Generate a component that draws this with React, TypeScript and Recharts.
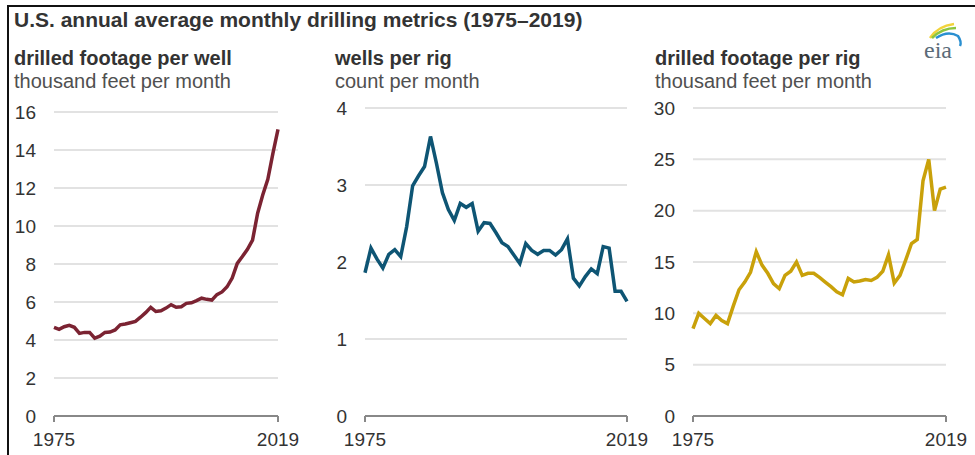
import { CartesianGrid, Line, LineChart, XAxis, YAxis } from 'recharts';

const years = [
  1975, 1976, 1977, 1978, 1979, 1980, 1981, 1982, 1983, 1984,
  1985, 1986, 1987, 1988, 1989, 1990, 1991, 1992, 1993, 1994,
  1995, 1996, 1997, 1998, 1999, 2000, 2001, 2002, 2003, 2004,
  2005, 2006, 2007, 2008, 2009, 2010, 2011, 2012, 2013, 2014,
  2015, 2016, 2017, 2018, 2019,
];

// thousand feet per month
const footagePerWell = [
  4.67, 4.56, 4.7, 4.77, 4.67, 4.35, 4.4, 4.4, 4.1, 4.2,
  4.4, 4.42, 4.53, 4.8, 4.84, 4.91, 4.98, 5.2, 5.44, 5.72,
  5.5, 5.54, 5.68, 5.86, 5.72, 5.75, 5.93, 5.96, 6.07, 6.2,
  6.14, 6.1, 6.39, 6.53, 6.8, 7.26, 8.03, 8.39, 8.77, 9.26,
  10.67, 11.63, 12.46, 13.82, 15.09,
];

// count per month
const wellsPerRig = [
  1.86, 2.18, 2.04, 1.92, 2.1, 2.16, 2.07, 2.46, 2.99, 3.12,
  3.24, 3.63, 3.28, 2.9, 2.68, 2.54, 2.76, 2.71, 2.76, 2.4,
  2.51, 2.5, 2.38, 2.25, 2.2, 2.09, 1.98, 2.24, 2.15, 2.1,
  2.15, 2.15, 2.09, 2.16, 2.3, 1.79, 1.69, 1.81, 1.91, 1.85,
  2.2, 2.18, 1.62, 1.62, 1.49,
];

// thousand feet per month
const footagePerRig = [
  8.5, 10.0, 9.5, 9.0, 9.8, 9.3, 9.0, 10.7, 12.3, 13.05,
  14.0, 16.0, 14.7, 13.9, 12.9, 12.4, 13.7, 14.1, 15.0, 13.7,
  13.9, 13.9, 13.5, 13.05, 12.6, 12.1, 11.8, 13.4, 13.05, 13.15,
  13.3, 13.2, 13.5, 14.1, 15.7, 12.95, 13.7, 15.2, 16.8, 17.2,
  22.9, 25.0, 20.0, 22.1, 22.3,
];

const xTicks = [1975, 2019];
const wellTicks = [0, 2, 4, 6, 8, 10, 12, 14, 16];
const rigCountTicks = [0, 1, 2, 3, 4];
const rigFootageTicks = [0, 5, 10, 15, 20, 25, 30];

const FONT = "'Liberation Sans', Arial, sans-serif";

type PanelProps = {
  values: number[];
  color: string;
  ticks: number[];
  left: number;
  width: number;
  top: number;
  yAxisWidth: number;
  marginRight: number;
};

// each chart starts at y=90; plot area bottom sits at y=416
function Panel({ values, color, ticks, left, width, top, yAxisWidth, marginRight }: PanelProps) {
  const data = years.map((year, i) => ({ year, value: values[i] }));
  const tick = { fontSize: 19, fontFamily: FONT, fill: '#333' };
  return (
    <div style={{ position: 'absolute', left, top: 90 }}>
      <LineChart
        width={width}
        height={365}
        data={data}
        margin={{ top, right: marginRight, left: 0, bottom: 0 }}
        style={{ overflow: 'visible' }}
      >
        <CartesianGrid vertical={false} stroke="#e2e2e2" strokeWidth={2} />
        <XAxis
          dataKey="year"
          type="number"
          domain={[1975, 2019]}
          ticks={xTicks}
          height={39}
          tick={tick}
          tickSize={6}
          tickMargin={11}
          tickLine={{ stroke: '#888', strokeWidth: 2 }}
          axisLine={{ stroke: '#888', strokeWidth: 2 }}
        />
        <YAxis
          domain={[ticks[0], ticks[ticks.length - 1]]}
          ticks={ticks}
          width={yAxisWidth}
          tick={tick}
          tickLine={false}
          axisLine={false}
          tickSize={0}
          tickMargin={18}
          interval={0}
        />
        <Line
          type="linear"
          dataKey="value"
          stroke={color}
          strokeWidth={3.5}
          dot={false}
          isAnimationActive={false}
        />
      </LineChart>
    </div>
  );
}

function EiaLogo() {
  return (
    <svg width={50} height={50} style={{ position: 'absolute', left: 916, top: 16 }}>
      <path d="M14 22 Q22 10 38 8" stroke="#f2d33a" strokeWidth={2.5} fill="none" />
      <path d="M16 22 Q26 12 40 12" stroke="#8cc63f" strokeWidth={2.5} fill="none" />
      <path d="M20 22 Q32 14 42 20 Q46 26 44 30" stroke="#2a8fd0" strokeWidth={2.5} fill="none" />
      <text x={8} y={42} fontFamily="'Liberation Serif', serif" fontSize={24} fill="#5b6b78">
        eia
      </text>
    </svg>
  );
}

const titleStyle = {
  position: 'absolute' as const,
  fontFamily: FONT,
  lineHeight: 1,
  whiteSpace: 'nowrap' as const,
};

export default function App() {
  return (
    <div
      style={{
        position: 'absolute',
        left: 0,
        top: 0,
        width: 975,
        height: 455,
        background: '#fff',
        overflow: 'hidden',
      }}
    >
      <div style={{ position: 'absolute', left: 7, top: 5, width: 2, height: 450, background: '#111' }} />
      <div style={{ position: 'absolute', left: 7, top: 5, width: 968, height: 2, background: '#111' }} />

      <div style={{ ...titleStyle, left: 14, top: 9, fontSize: 21, fontWeight: 700, color: '#333' }}>
        U.S. annual average monthly drilling metrics (1975–2019)
      </div>

      <div style={{ ...titleStyle, left: 14, top: 48, fontSize: 20, fontWeight: 700, color: '#333' }}>
        drilled footage per well
      </div>
      <div style={{ ...titleStyle, left: 14, top: 71, fontSize: 20, color: '#505050' }}>
        thousand feet per month
      </div>

      <div style={{ ...titleStyle, left: 335, top: 48, fontSize: 20, fontWeight: 700, color: '#333' }}>
        wells per rig
      </div>
      <div style={{ ...titleStyle, left: 335, top: 71, fontSize: 20, color: '#505050' }}>
        count per month
      </div>

      <div style={{ ...titleStyle, left: 655, top: 48, fontSize: 20, fontWeight: 700, color: '#333' }}>
        drilled footage per rig
      </div>
      <div style={{ ...titleStyle, left: 655, top: 71, fontSize: 20, color: '#505050' }}>
        thousand feet per month
      </div>

      <EiaLogo />

      <Panel
        values={footagePerWell}
        color="#7b2332"
        ticks={wellTicks}
        left={0}
        width={300}
        top={22}
        yAxisWidth={54}
        marginRight={22}
      />
      <Panel
        values={wellsPerRig}
        color="#0e5574"
        ticks={rigCountTicks}
        left={320}
        width={335}
        top={18}
        yAxisWidth={45}
        marginRight={28}
      />
      <Panel
        values={footagePerRig}
        color="#c9a10a"
        ticks={rigFootageTicks}
        left={640}
        width={335}
        top={18}
        yAxisWidth={53}
        marginRight={29}
      />
    </div>
  );
}
